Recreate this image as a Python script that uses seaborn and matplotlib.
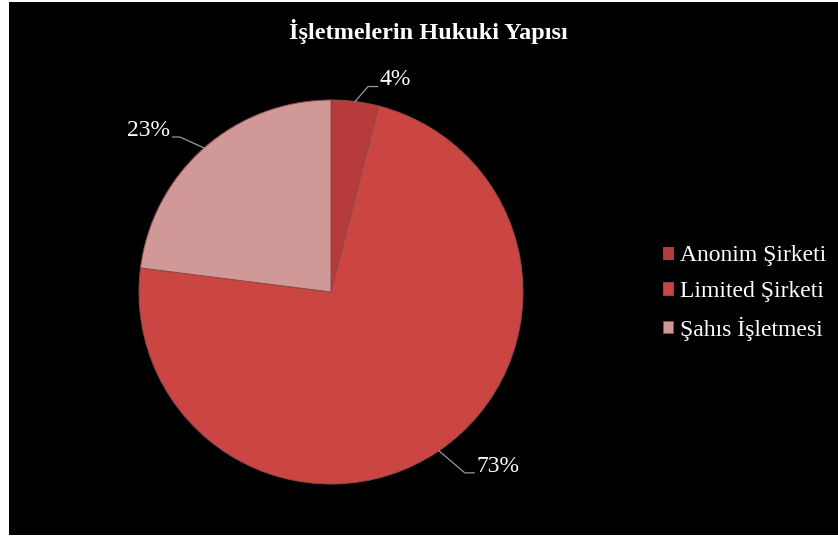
import numpy as np
import matplotlib
matplotlib.use('Agg')
import matplotlib.pyplot as plt
from matplotlib.patches import Rectangle
import seaborn as sns

sns.set_theme(style='white')
plt.rcParams['font.family'] = ['Liberation Serif', 'DejaVu Serif']

# data
title = 'İşletmelerin Hukuki Yapısı'
categories = ['Anonim Şirketi', 'Limited Şirketi', 'Şahıs İşletmesi']
shares = [4, 73, 23]
colors = ['#b83b3b', '#cb4543', '#d19898']

W, H = 838, 538
fig = plt.figure(figsize=(W / 100, H / 100), dpi=100, facecolor='white')
# black chart area, white strip left/top/bottom as in the reference
fig.patches.append(Rectangle((9 / W, 3 / H), 1 - 9 / W, 1 - 5 / H, transform=fig.transFigure,
                             facecolor='black', edgecolor='none', zorder=-1))

# pie axes: centre (331, 292) px, radius 192 px
cx, cy, r = 331, 292, 192
ax = fig.add_axes([(cx - r) / W, (H - cy - r) / H, 2 * r / W, 2 * r / H])
ax.set_facecolor('none')
wedges, _ = ax.pie(shares, colors=colors, startangle=90, counterclock=False,
                   wedgeprops=dict(edgecolor='#8c4a4a', linewidth=0.7))
ax.set_xlim(-1, 1)
ax.set_ylim(-1, 1)

# percentage labels with leader lines (offsets in pie units)
lab_style = dict(color='white', fontsize=17, va='center')
line_kw = dict(color='#9a9a9a', lw=0.9, clip_on=False)
offsets = [  # (elbow dx, dy), horizontal run, text side
    ((0.068, 0.078), 0.05, 'left'),
    ((0.135, -0.115), 0.05, 'left'),
    ((-0.125, 0.057), -0.04, 'right'),
]
for w, s, (d, run, side) in zip(wedges, shares, offsets):
    ang = np.deg2rad((w.theta1 + w.theta2) / 2)
    x0, y0 = np.cos(ang), np.sin(ang)
    x1, y1 = x0 + d[0], y0 + d[1]
    x2 = x1 + run
    ax.plot([x0, x1, x2], [y0, y1, y1], **line_kw)
    tx = x2 + (0.01 if side == 'left' else -0.01)
    ax.text(tx, y1 + 0.035, f'{s}%', ha=side, clip_on=False, **lab_style)

fig.text(428 / W, 1 - 32 / H, title, color='white', fontsize=17.5, fontweight='bold',
         ha='center', va='center')

leg = fig.legend(wedges, categories, loc='center left', bbox_to_anchor=(642 / W, 1 - 293 / H),
                 frameon=False, fontsize=17, labelcolor='white', handlelength=0.42,
                 handleheight=0.42, handletextpad=0.3, labelspacing=0.62)

fig.savefig('out.png', dpi=100, facecolor=fig.get_facecolor())
